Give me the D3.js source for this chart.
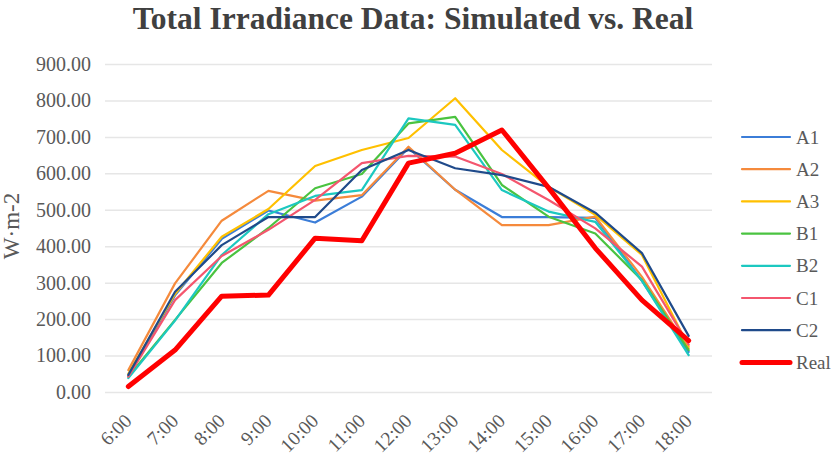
<!DOCTYPE html>
<html><head><meta charset="utf-8">
<script src="https://cdn.jsdelivr.net/npm/d3@7"></script>
<style>body{margin:0;background:#fff}svg{display:block}</style>
</head><body>
<svg id="c" width="837" height="457"></svg>
<script>
const categories = ["6:00","7:00","8:00","9:00","10:00","11:00","12:00","13:00","14:00","15:00","16:00","17:00","18:00"];
const seriesNames = ["A1","A2","A3","B1","B2","C1","C2","Real"];
const A1 = [45,265,420,498,465,536,670,555,480,480,478,305,110];
const A2 = [60,298,470,552,525,540,673,555,458,458,481,316,120];
const A3 = [50,269,426,502,620,664,697,806,664,563,486,376,125];
const B1 = [42,198,354,450,559,598,737,755,568,481,435,307,115];
const B2 = [38,196,376,488,538,554,751,733,554,495,467,305,101];
const C1 = [42,252,373,445,527,628,648,646,598,527,449,344,130];
const C2 = [47,275,403,480,480,609,664,614,595,563,492,381,154];
const Real = [15,115,263,266,422,415,628,655,719,560,395,252,141];
const yTicks = [0,100,200,300,400,500,600,700,800,900];
const colors = ["#3b7dd8","#f58a3c","#ffc000","#4ac340","#1cc8c0","#f4566e","#1f4a8a","#ff0000"];
const values = [A1,A2,A3,B1,B2,C1,C2,Real];

const svg = d3.select("#c");
const m = {l:105, r:712, t:64, b:392};
const x = d3.scalePoint().domain(categories).range([m.l,m.r]).padding(0.5);
const y = d3.scaleLinear().domain([0,900]).range([m.b,m.t]);

svg.append("text").attr("x",413).attr("y",28.5).attr("text-anchor","middle")
  .attr("font-family","Liberation Serif").attr("font-weight","bold").attr("font-size",31.5)
  .attr("fill","#404040").text("Total Irradiance Data: Simulated vs. Real");

const yAxis = svg.append("g").attr("transform",`translate(${m.l},0)`)
  .call(d3.axisLeft(y).tickValues(yTicks).tickSize(-(m.r-m.l)).tickFormat(d3.format(".2f")).tickPadding(14));
yAxis.select(".domain").remove();
yAxis.selectAll("line").attr("stroke","#e6e6e6").attr("stroke-width",1.5);
yAxis.selectAll("text").attr("font-family","Liberation Serif").attr("font-size",20).attr("fill","#595959");

const xAxis = svg.append("g").attr("transform",`translate(0,${m.b})`)
  .call(d3.axisBottom(x).tickSize(0).tickPadding(0));
xAxis.select(".domain").remove();
xAxis.selectAll("text").attr("font-family","Liberation Serif").attr("font-size",19.5).attr("fill","#595959")
  .attr("text-anchor","end").attr("dy",0).attr("transform","translate(4,30) rotate(-45)");

svg.append("text").attr("transform","translate(19,226) rotate(-90)").attr("text-anchor","middle")
  .attr("font-family","Liberation Serif").attr("font-size",23).attr("fill","#595959").text("W·m-2");

const line = d3.line().x((d,i)=>x(categories[i])).y(d=>y(d));
values.forEach((v,k)=>{
  svg.append("path").datum(v).attr("d",line).attr("fill","none")
    .attr("stroke",colors[k]).attr("stroke-width",seriesNames[k]==="Real"?5:2.2)
    .attr("stroke-linejoin","round").attr("stroke-linecap","round");
});

const lg = svg.append("g");
seriesNames.forEach((n,k)=>{
  const yy = 137 + k*32.2;
  lg.append("line").attr("x1",742).attr("x2",790).attr("y1",yy).attr("y2",yy)
    .attr("stroke",colors[k]).attr("stroke-width",n==="Real"?5:2.2).attr("stroke-linecap","round");
  lg.append("text").attr("x",796).attr("y",yy).attr("dy","0.35em")
    .attr("font-family","Liberation Serif").attr("font-size",19).attr("fill","#595959").text(n);
});
</script>
</body></html>
